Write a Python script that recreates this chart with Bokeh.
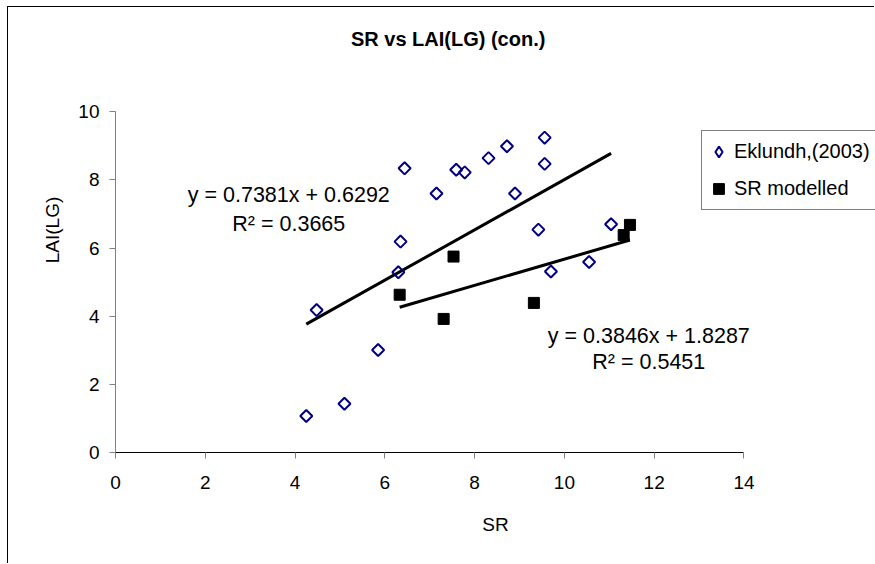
import numpy as np
from bokeh.plotting import figure
from bokeh.models import Range1d, Label, Legend, LegendItem, FixedTicker
from bokeh.embed import file_html
from bokeh.resources import INLINE

# ---- data ----
eklundh_sr = [4.25, 4.48, 5.10, 5.85, 6.30, 6.35, 6.44, 7.15, 7.59, 7.78,
              8.31, 8.72, 8.90, 9.42, 9.56, 9.56, 9.70, 10.55, 11.04]
eklundh_lai = [1.07, 4.18, 1.43, 3.01, 5.29, 6.19, 8.34, 7.60, 8.30, 8.22,
               8.64, 8.99, 7.60, 6.54, 9.24, 8.47, 5.31, 5.59, 6.70]
model_sr = [6.33, 7.31, 7.53, 9.32, 11.32, 11.46]
model_lai = [4.63, 3.92, 5.75, 4.39, 6.38, 6.68]

series_names = ["Eklundh,(2003)", "SR modelled"]
trend_slope = [0.7381, 0.3846]
trend_intercept = [0.6292, 1.8287]
trend_r2 = [0.3665, 0.5451]

x_ticks = [0, 2, 4, 6, 8, 10, 12, 14]
y_ticks = [0, 2, 4, 6, 8, 10]

title_text = "SR vs LAI(LG) (con.)"
x_label = "SR"
y_label = "LAI(LG)"

FONT = "Liberation Sans"
NAVY = "#000080"

# frame spans the canvas to the right and top so nothing there is clipped;
# the axes are bounded to the real data extent (0-14, 0-10)
p = figure(width=867, height=557,
           x_range=Range1d(0, 16.93), y_range=Range1d(0, 13.06),
           output_backend="svg", toolbar_location=None,
           min_border_left=107, min_border_right=0,
           min_border_top=0, min_border_bottom=112)
p.title.visible = False
p.styles = {"border-left": "1px solid black", "border-top": "1px solid black",
            "margin-left": "7px", "margin-top": "6px"}
p.grid.visible = False
p.outline_line_color = None
p.background_fill_color = "white"
p.border_fill_color = "white"

# axes
p.xaxis.ticker = FixedTicker(ticks=x_ticks)
p.yaxis.ticker = FixedTicker(ticks=y_ticks)
p.xaxis.bounds = (x_ticks[0], x_ticks[-1])
p.yaxis.bounds = (y_ticks[0], y_ticks[-1])
for ax in (p.xaxis[0], p.yaxis[0]):
    ax.minor_tick_line_color = None
    ax.major_tick_in = 0
    ax.major_tick_out = 6
    ax.major_tick_line_color = "#808080"
    ax.major_label_text_font = FONT
    ax.major_label_text_font_size = "19px"
    ax.major_label_text_color = "black"
    ax.axis_label_text_font = FONT
    ax.axis_label_text_font_size = "19px"
    ax.axis_label_text_font_style = "normal"
    ax.axis_label_text_color = "black"
p.xaxis.axis_line_color = "black"
p.yaxis.axis_line_color = "#808080"
p.xaxis.major_label_standoff = 17
p.yaxis.major_label_standoff = 10
p.xaxis.axis_label = x_label
p.yaxis.axis_label = y_label
p.xaxis.axis_label_standoff = 22
p.yaxis.axis_label_standoff = 12

# trend lines (drawn first, under markers)
for xs_data, slope, icpt in ((eklundh_sr, trend_slope[0], trend_intercept[0]),
                             (model_sr, trend_slope[1], trend_intercept[1])):
    x0, x1 = min(xs_data), max(xs_data)
    p.line([x0, x1], [slope * x0 + icpt, slope * x1 + icpt],
           line_color="black", line_width=3)

# open diamonds (square turned 45 degrees) and filled squares
r_ek = p.scatter(eklundh_sr, eklundh_lai, marker="square", angle=np.pi / 4,
                 size=8.5, fill_color=None, line_color=NAVY, line_width=2)
r_mod = p.scatter(model_sr, model_lai, marker="square", size=11,
                  fill_color="black", line_color="black")
# legend swatch for the diamonds (legend swatches ignore angle); no visible point
r_ek_key = p.scatter([np.nan], [np.nan], marker="diamond", size=12,
                     fill_color=None, line_color=NAVY, line_width=2)

# equation labels
eq_pos = [((3.86, 7.57), (3.86, 6.72)), ((11.88, 3.43), (11.88, 2.65))]
for i in range(2):
    (ex, ey), (rx, ry) = eq_pos[i]
    p.add_layout(Label(x=ex, y=ey, text=f"y = {trend_slope[i]:.4f}x + {trend_intercept[i]:.4f}",
                       text_align="center", text_baseline="middle",
                       text_font=FONT, text_font_size="21.5px", text_color="black"))
    p.add_layout(Label(x=rx, y=ry, text=f"R\u00b2 = {trend_r2[i]:.4f}",
                       text_align="center", text_baseline="middle",
                       text_font=FONT, text_font_size="21.5px", text_color="black"))

# title
p.add_layout(Label(x=7.41, y=12.13, text=title_text, text_align="center",
                   text_baseline="middle", text_font=FONT, text_font_size="20px",
                   text_font_style="bold", text_color="black"))

legend = Legend(items=[LegendItem(label=series_names[0], renderers=[r_ek_key]),
                       LegendItem(label=series_names[1], renderers=[r_mod])],
                location=(586, 242), margin=0, padding=3, spacing=2,
                label_height=35, glyph_height=35, glyph_width=27,
                label_standoff=2, label_width=175,
                label_text_font=FONT, label_text_font_size="20px",
                label_text_color="black",
                border_line_color="black", border_line_width=1,
                background_fill_color="white", background_fill_alpha=1.0)
p.add_layout(legend)

open("out.html", "w").write(file_html(p, INLINE))
